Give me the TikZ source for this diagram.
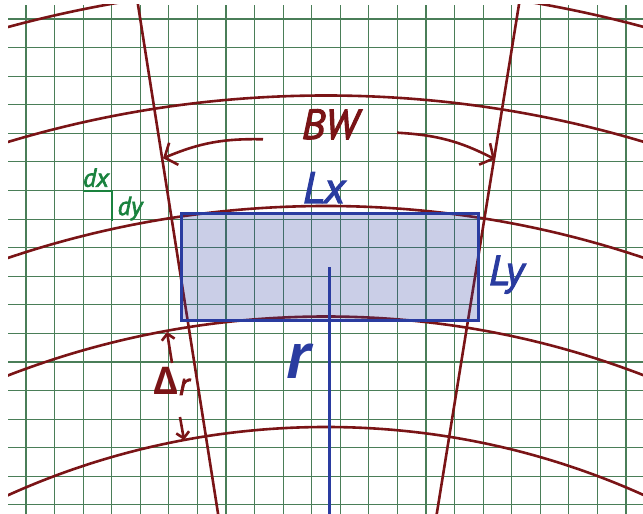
\documentclass[tikz,border=0pt]{standalone}
\usepackage{fontspec}
\setmainfont{PT Sans}
\newfontfamily\deltafont{Open Sans}
\usetikzlibrary{arrows.meta}
\definecolor{arcred}{RGB}{122,20,22}
\definecolor{boxblue}{RGB}{42,60,160}
\definecolor{gridgreen}{RGB}{74,126,88}
\definecolor{labelgreen}{RGB}{26,130,62}
\tikzstyle{gridline} = [gridgreen, line width=1.1pt]
\tikzstyle{arcline} = [arcred, line width=2.6pt]
\tikzstyle{arrow} = [arcred, line width=2.6pt, -{Straight Barb[length=10pt,width=24pt]}]
\tikzstyle{smallarrow} = [arcred, line width=2.6pt, -{Straight Barb[length=6pt,width=13pt]}]
\tikzstyle{txt} = [inner sep=0pt, anchor=base]
\newcommand{\heavy}{\addfontfeatures{FakeBold=2.5}}

\begin{document}
\begin{tikzpicture}[x=1pt,y=1pt]
\useasboundingbox (0,0) rectangle (643,514);
\coordinate (center) at (326,-686);
\begin{scope}
	\clip (8,0) rectangle (643,509);
	% grid
	\foreach \i in {0,...,21}
		\draw[gridline] ({26+28.57*\i},0) -- ({26+28.57*\i},509);
	\foreach \j in {0,...,17}
		\draw[gridline] (8,{495-28.58*\j}) -- (643,{495-28.58*\j});
	% range rings and beam edges
	\foreach \rad in {773,883.5,994,1104.5,1215}
		\draw[arcline] (center) circle[radius=\rad pt];
	\draw[arcline] (center) -- ++(98.94:1400pt);
	\draw[arcline] (center) -- ++(80.83:1400pt);
\end{scope}
\node (cell) [draw=boxblue, line width=3pt, fill=boxblue, fill opacity=0.25, draw opacity=1, minimum width=297pt, minimum height=107pt, inner sep=0pt] at (329.5,246.5) {};
\draw[boxblue, line width=2.2pt] (cell.center) -- (cell.center |- 0,0);
% labels
\node (bw) [txt, arcred, font=\itshape\fontsize{42}{42}\selectfont\heavy] at (330,375) {BW};
\node (lx) [txt, boxblue, font=\itshape\fontsize{44}{44}\selectfont\heavy] at (324,311) {Lx};
\node (ly) [txt, boxblue, font=\itshape\fontsize{42}{42}\selectfont\heavy] at (506.5,229) {Ly};
\node (r) [txt, boxblue, font=\bfseries\itshape\fontsize{68}{68}\selectfont] at (298,135) {r};
\node (dr) [txt, arcred] at (171.5,119) {{\deltafont\bfseries\fontsize{38}{38}\selectfont Δ}{\itshape\fontsize{32}{32}\selectfont\heavy r}};
\node (dx) [txt, labelgreen, font=\itshape\fontsize{26}{26}\selectfont\heavy] at (96,327.3) {dx};
\node (dy) [txt, labelgreen, font=\itshape\fontsize{26}{26}\selectfont\heavy] at (130,299) {dy};
\draw[labelgreen, line width=2.2pt] (83,323.3) -- (112,323.3) -- (112,293.3);
% arrows
\coordinate (bwl) at (263,374.7);
\coordinate (bwltip) at (163,355.7);
\coordinate (bwr) at (397,381.3);
\coordinate (bwrtip) at (495,354.7);
\draw[arrow] (bwl) to[bend right=12] (bwltip);
\draw[arrow] (bwr) to[bend left=12] (bwrtip);
\coordinate (drup) at (172,151);
\coordinate (druptip) at (167,182);
\coordinate (drdn) at (180,97);
\coordinate (drdntip) at (184,74);
\draw[smallarrow] (drup) -- (druptip);
\draw[smallarrow] (drdn) -- (drdntip);
\end{tikzpicture}
\end{document}
